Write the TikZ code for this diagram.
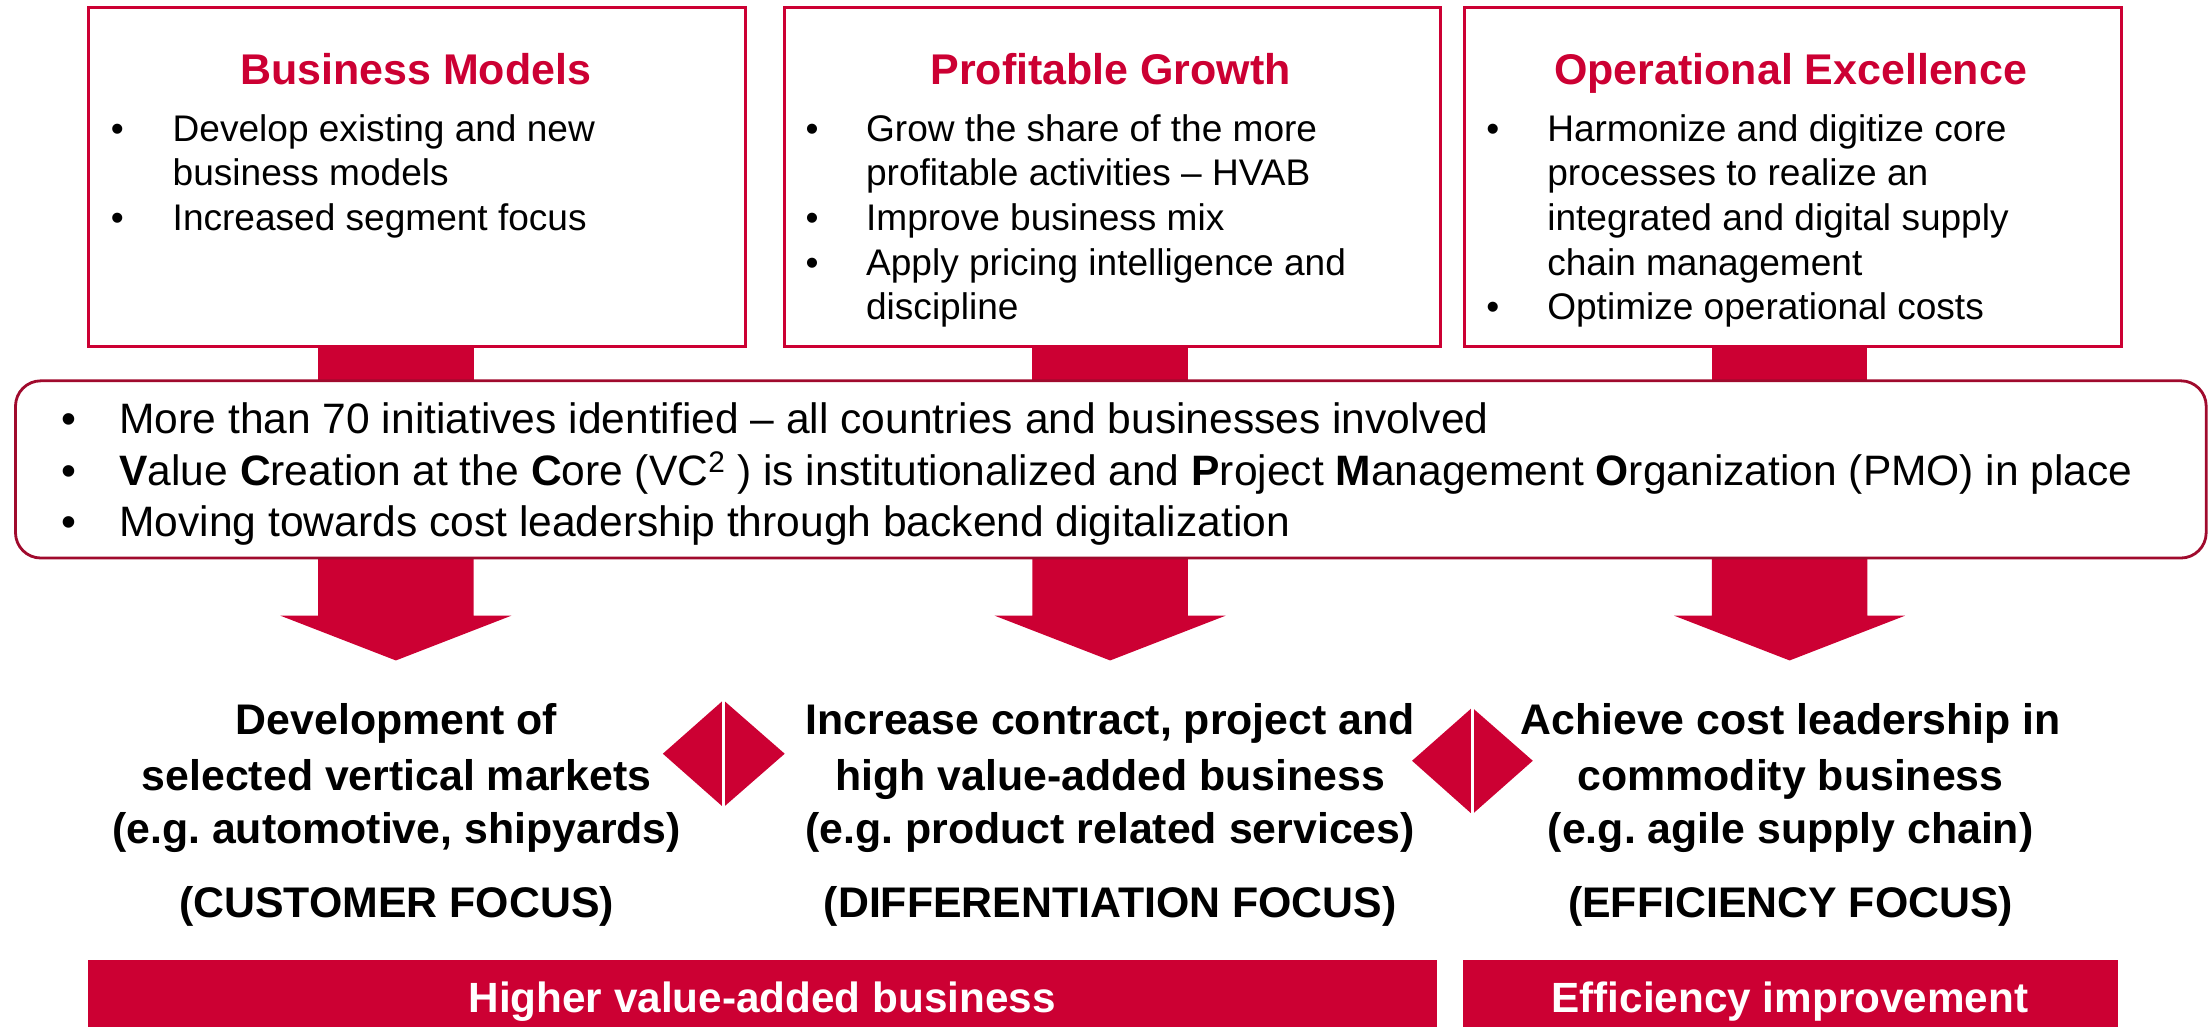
\documentclass[tikz,border=0pt]{standalone}
\usepackage{fontspec}
\setmainfont{Liberation Sans}
\definecolor{brand}{RGB}{204,0,51}
\definecolor{brandDark}{RGB}{160,10,45}
\begin{document}
\frenchspacing
\begin{tikzpicture}[x=1pt,y=-1pt,
  topbox/.style={draw=brand, line width=2.1pt, minimum width=466pt, minimum height=240.5pt, anchor=north west, inner sep=0pt},
  ttl/.style={anchor=base, text=brand, font=\fontsize{30.5}{36}\selectfont\bfseries, inner sep=0pt},
  txt/.style={anchor=base west, font=\fontsize{26.3}{31.7}\selectfont, inner sep=0pt},
  bul/.style={anchor=base, font=\fontsize{26.3}{31.7}\selectfont, inner sep=0pt},
  midtxt/.style={anchor=base west, font=\fontsize{30.2}{36}\selectfont, inner sep=0pt},
  midbul/.style={anchor=base, font=\fontsize{30.2}{36}\selectfont, inner sep=0pt},
  res/.style={anchor=base, font=\fontsize{30.4}{38}\selectfont\bfseries, inner sep=0pt},
  bar/.style={fill=brand, anchor=north west, inner sep=0pt, minimum height=47.6pt},
  bartxt/.style={anchor=base, text=white, font=\fontsize{30}{36}\selectfont\bfseries, inner sep=0pt},
  arr/.style={fill=brand},
  dia/.style={fill=brand}
]
\useasboundingbox (0,0) rectangle (1568,729);

% stems from top boxes to middle box and arrows down
\foreach \c/\n in {281/1,788/2,1270.3/3}{
  \fill[arr] (\c-55.2,245) rectangle (\c+55.2,270);
  \fill[arr] (\c-55.2,394) -- (\c+55.2,394) -- (\c+55.2,437) -- (\c+82,437)
     -- (\c,468.8) -- (\c-82,437) -- (\c-55.2,437) -- cycle;
  \coordinate (tip\n) at (\c,468.8);
}

% top boxes
\node[topbox] (b1) at (62,4.5) {};
\node[topbox] (b2) at (555.5,4.5) {};
\node[topbox] (b3) at (1038.5,4.5) {};

\node[ttl] (t1) at (295,60) {Business Models};
\node[ttl] (t2) at (788.4,60) {Profitable Growth};
\node[ttl] (t3) at (1271,60) {Operational Excellence};

% box 1
\node[bul] (b1u1) at (83.3,100.6) {•};
\node[txt] (b1l1) at (122.4,100.6) {Develop existing and new};
\node[txt] (b1l2) at (122.4,131.9) {business models};
\node[bul] (b1u2) at (83.3,163.3) {•};
\node[txt] (b1l3) at (122.4,163.3) {Increased segment focus};

% box 2
\node[bul] (b2u1) at (576.4,100.6) {•};
\node[txt] (b2l1) at (614.6,100.6) {Grow the share of the more};
\node[txt] (b2l2) at (614.6,131.9) {profitable activities – HVAB};
\node[bul] (b2u2) at (576.4,163.3) {•};
\node[txt] (b2l3) at (614.6,163.3) {Improve business mix};
\node[bul] (b2u3) at (576.4,195.2) {•};
\node[txt] (b2l4) at (614.6,195.2) {Apply pricing intelligence and};
\node[txt] (b2l5) at (614.6,227.1) {discipline};

% box 3
\node[bul] (b3u1) at (1059.7,100.6) {•};
\node[txt] (b3l1) at (1098.1,100.6) {Harmonize and digitize core};
\node[txt] (b3l2) at (1098.1,131.9) {processes to realize an};
\node[txt] (b3l3) at (1098.1,163.3) {integrated and digital supply};
\node[txt] (b3l4) at (1098.1,195.2) {chain management};
\node[bul] (b3u2) at (1059.7,227.1) {•};
\node[txt] (b3l5) at (1098.1,227.1) {Optimize operational costs};

% middle box
\node[draw=brandDark, fill=white, line width=2pt, rounded corners=18pt, minimum width=1555pt, minimum height=125.8pt, anchor=north west, inner sep=0pt] (mid) at (10,269.3) {};
\node[midbul] (mu1) at (48.8,308) {•};
\node[midtxt] (ml1) at (84.6,308) {More than 70 initiatives identified – all countries and businesses involved};
\node[midbul] (mu2) at (48.8,344.3) {•};
\node[midtxt] (ml2) at (84.6,344.3) {\textbf{V}alue \textbf{C}reation at the \textbf{C}ore (VC\textsuperscript{2} ) is institutionalized and \textbf{P}roject \textbf{M}anagement \textbf{O}rganization (PMO) in place};
\node[midbul] (mu3) at (48.8,380.5) {•};
\node[midtxt] (ml3) at (84.6,380.5) {Moving towards cost leadership through backend digitalization};

% diamonds
\fill[dia] (513.5,497) -- (557,535) -- (513.5,573) -- (470.5,535) -- cycle;
\draw[white, line width=2.4pt] (513.5,495) -- (513.5,575);
\coordinate (d1) at (513.5,535);
\fill[dia] (1045,502.3) -- (1088,540) -- (1045,578) -- (1002.3,540) -- cycle;
\draw[white, line width=2.4pt] (1045,500) -- (1045,580);
\coordinate (d2) at (1045,540);

% result texts
\node[res] (r1a) at (281.5,521.7) {Development of};
\node[res] (r1b) at (281.5,560.8) {selected vertical markets};
\node[res] (r1c) at (281.5,599) {(e.g. automotive, shipyards)};
\node[res] (r1d) at (281.5,651.6) {(CUSTOMER FOCUS)};

\node[res] (r2a) at (788,521.7) {Increase contract, project and};
\node[res] (r2b) at (788,560.8) {high value-added business};
\node[res] (r2c) at (788,599) {(e.g. product related services)};
\node[res] (r2d) at (788,651.6) {(DIFFERENTIATION FOCUS)};

\node[res] (r3a) at (1271,521.7) {Achieve cost leadership in};
\node[res] (r3b) at (1271,560.8) {commodity business};
\node[res] (r3c) at (1271,599) {(e.g. agile supply chain)};
\node[res] (r3d) at (1271,651.6) {(EFFICIENCY FOCUS)};

% bottom bars
\node[bar, minimum width=958pt] (bar1) at (62,681.4) {};
\node[bar, minimum width=465pt] (bar2) at (1038,681.4) {};
\node[bartxt] (bt1) at (541,719) {Higher value-added business};
\node[bartxt] (bt2) at (1270.5,719) {Efficiency improvement};
\end{tikzpicture}
\end{document}
